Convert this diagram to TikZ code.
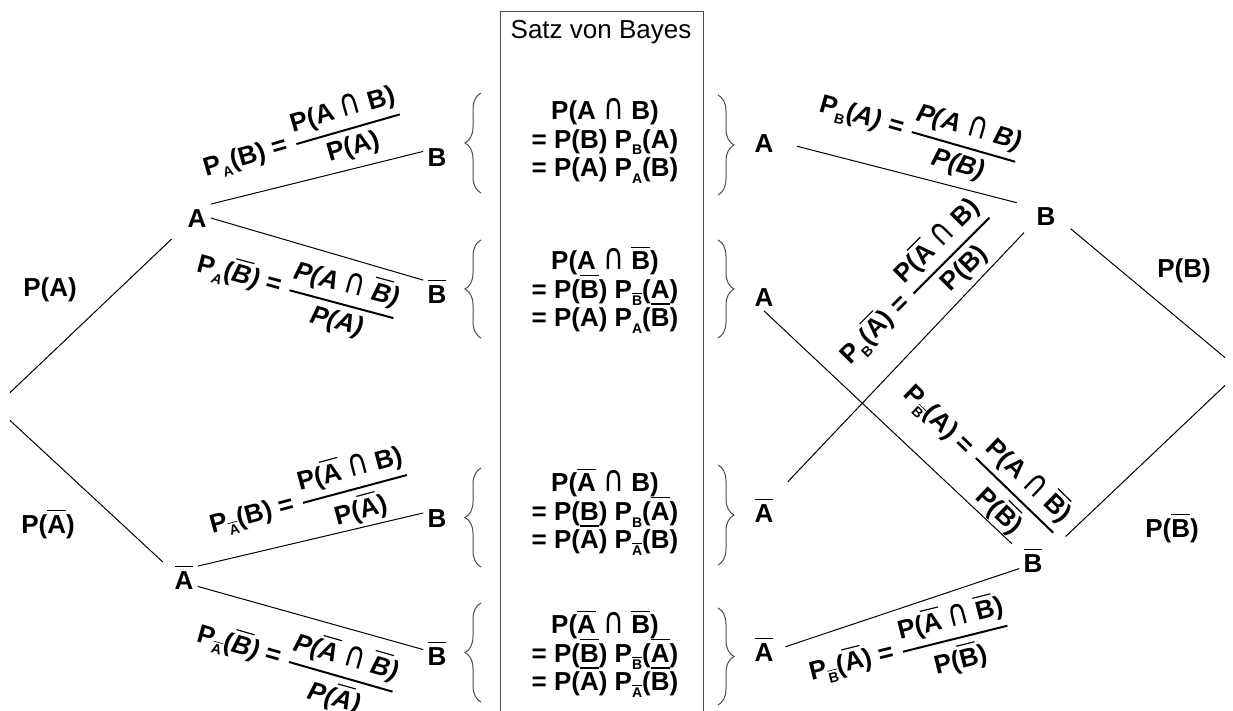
\documentclass[tikz,border=0pt]{standalone}
\usepackage{amsmath}
\usepackage{graphicx}
\usepackage{fontspec}
\setmainfont{Liberation Sans}
\newfontfamily\symb{DejaVu Sans}
\usetikzlibrary{decorations.pathreplacing}

% Schriftgroesse, Zeilenabstand, Querstrich, Index, Schnitt und Bruch
\newcommand{\groesse}{\fontsize{13}{14.2}\selectfont}
\newcommand{\eng}{\lineskiplimit=-20pt\relax}
\newcommand{\ov}[1]{\leavevmode\vbox{\hrule height .045em\kern .16em\hbox{#1}}}
\newcommand{\idx}[1]{\raisebox{-0.5ex}{\fontsize{7}{8}\selectfont #1}}
\newcommand{\schnitt}{\scalebox{1.1}[1.4]{\symb\mdseries ∩}}
\newcommand{\bruch}[2]{\ensuremath{\genfrac{}{}{1pt}{0}{\mbox{#1}}{\mbox{#2}}}}

\begin{document}
\begin{tikzpicture}[x=0.5pt, y=-0.5pt,
    ast/.style={line width=0.5pt},
    knoten/.style={font=\groesse\bfseries, inner sep=2pt, text height=9.5pt, text depth=0pt},
    formel/.style={font=\groesse\bfseries, inner sep=0pt},
    block/.style={font=\groesse\bfseries\eng, align=center, inner sep=0pt},
    klammer/.style={draw=black!70, line width=0.5pt, decorate, decoration={brace, amplitude=8pt}},
    wurzel/.style={inner sep=0pt, minimum width=0pt, minimum height=13.5pt}]

    \useasboundingbox (0,0) rectangle (1233,711);

    % Kasten in der Mitte
    \draw[black!70] (500,711) |- (703,11) -- (703,711);
    \node[font=\groesse] (satz) at (601,32) {Satz von Bayes};

    \node[block] (s1) at (605,141) {P(A \schnitt{} B)\\= P(B) P\idx{B}(A)\\= P(A) P\idx{A}(B)};
    \node[block] (s2) at (605,290) {P(A \schnitt{} \ov{B})\\= P(\ov{B}) P\idx{\ov{B}}(A)\\= P(A) P\idx{A}(\ov{B})};
    \node[block] (s3) at (605,512) {P(\ov{A} \schnitt{} B)\\= P(B) P\idx{B}(\ov{A})\\= P(\ov{A}) P\idx{\ov{A}}(B)};
    \node[block] (s4) at (605,654) {P(\ov{A} \schnitt{} \ov{B})\\= P(\ov{B}) P\idx{\ov{B}}(\ov{A})\\= P(\ov{A}) P\idx{\ov{A}}(\ov{B})};

    % Klammern links und rechts
    \draw[klammer] (481,193) -- (481,93);
    \draw[klammer] (481,338) -- (481,240);
    \draw[klammer] (481,567) -- (481,468);
    \draw[klammer] (481,702) -- (481,603);
    \draw[klammer] (718,95) -- (718,195);
    \draw[klammer] (718,240) -- (718,338);
    \draw[klammer] (718,465) -- (718,565);
    \draw[klammer] (718,608) -- (718,705);

    % Baum links: erst A, dann B
    \node[wurzel] (wl) at (10,406.5) {};
    \node[knoten] (A) at (197,218) {A};
    \node[knoten] (Aq) at (184,580) {\ov{A}};
    \node[knoten] (AB) at (437,157) {B};
    \node[knoten] (ABq) at (437,294) {\ov{B}};
    \node[knoten] (AqB) at (437,518) {B};
    \node[knoten] (AqBq) at (437,656) {\ov{B}};

    \draw[ast, shorten >=8pt] (wl.north) -- (A.216);
    \draw[ast, shorten >=5pt] (wl.south) -- (Aq.141);
    \draw[ast] (A.north east) -- (AB.158);
    \draw[ast] (A.east) -- (ABq.north west);
    \draw[ast] (Aq.north east) -- (AqB.160);
    \draw[ast] (Aq.-25) -- (AqBq.155);

    \node[knoten] (pA) at (50,287) {P(A)};
    \node[knoten] (pAq) at (48,524) {P(\ov{A})};

    \node[formel, rotate=16] (fAB) at (303,141) {P\idx{A}(B) = \bruch{P(A \schnitt{} B)}{P(A)}};
    \node[formel, rotate=-15] (fABq) at (297,290) {P\idx{\itshape A}(\itshape\ov{B}) = \bruch{P(A \schnitt{} \ov{B})}{\itshape P(A)}};
    \node[formel, rotate=15] (fAqB) at (310,501) {P\idx{\ov{A}}(B) = \bruch{P(\ov{A} \schnitt{} B)}{P(\ov{A})}};
    \node[formel, rotate=-16] (fAqBq) at (296,664) {P\idx{\ov{A}}(\itshape\ov{B}) = \bruch{P(\ov{A} \schnitt{} \ov{B})}{\itshape P(\ov{A})}};

    % Baum rechts: erst B, dann A
    \node[wurzel] (wr) at (1225,371.5) {};
    \node[knoten] (B) at (1046,216) {B};
    \node[knoten] (Bq) at (1033,563) {\ov{B}};
    \node[knoten] (BA) at (764,143) {A};
    \node[knoten] (BqA) at (764,297) {A};
    \node[knoten] (BAq) at (764,513) {\ov{A}};
    \node[knoten] (BqAq) at (764,652) {\ov{A}};

    \draw[ast, shorten <=7pt] (B.-15) -- (wr.north);
    \draw[ast, shorten <=13pt] (Bq.32) -- (wr.south);
    \draw[ast, shorten <=8pt, shorten >=10pt] (B.146) -- (BA.7);
    \draw[ast, shorten <=6pt, shorten >=12pt] (B.210) -- (BAq.62);
    \draw[ast, shorten <=5pt] (Bq.138) -- (BqA.south);
    \draw[ast, shorten >=4pt] (Bq.202) -- (BqAq.11);

    \node[knoten] (pB) at (1184,268) {P(B)};
    \node[knoten] (pBq) at (1172,528) {P(\ov{B})};

    \node[formel, rotate=-16] (fBA) at (919,133) {P\idx{B}(\itshape A) = \bruch{P(A \schnitt{} B)}{P(B)}};
    \node[formel, rotate=45] (fBAq) at (917,287) {P\idx{B}(\ov{A}) = \bruch{P(\ov{A} \schnitt{} B)}{P(B)}};
    \node[formel, rotate=-44] (fBqA) at (981,463) {P\idx{\ov{B}}(A) = \bruch{P(A \schnitt{} \ov{B})}{P(\ov{B})}};
    \node[formel, rotate=14] (fBqAq) at (910,650) {P\idx{\ov{B}}(\ov{A}) = \bruch{P(\ov{A} \schnitt{} \ov{B})}{P(\ov{B})}};

\end{tikzpicture}
\end{document}
